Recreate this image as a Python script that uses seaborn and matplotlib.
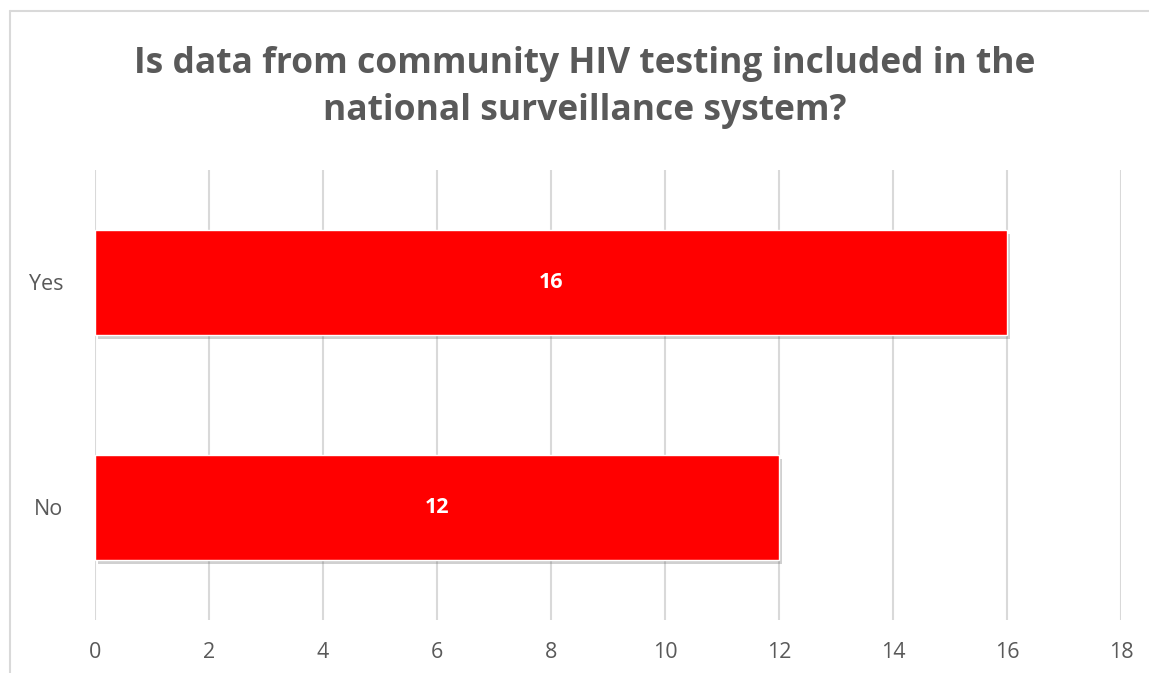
import pandas as pd
import seaborn as sns
import matplotlib.pyplot as plt
import matplotlib.patheffects as pe
from matplotlib.lines import Line2D

categories = ['Yes', 'No']
counts = [16, 12]
x_ticks = [0, 2, 4, 6, 8, 10, 12, 14, 16, 18]
title = 'Is data from community HIV testing included in the\nnational surveillance system?'

df = pd.DataFrame({'answer': categories, 'count': counts})

sns.set_theme(style='white')
plt.rcParams['font.family'] = ['Open Sans', 'DejaVu Sans']

text_grey = '#595959'
grid_grey = '#d9d9d9'

fig = plt.figure(figsize=(11.49, 6.73), dpi=100)
ax = fig.add_axes([0.0827, 0.0788, 0.8929, 0.6686])

sns.barplot(data=df, x='count', y='answer', color='#ff0000', saturation=1,
            width=0.465, orient='h', ax=ax, zorder=3)

# soft drop shadow like the office chart
for bar in ax.patches:
    bar.set_path_effects([pe.SimplePatchShadow(offset=(2, -3), shadow_rgbFace='#666666', alpha=0.3),
                          pe.Normal()])

# value labels inside the bars
for bar, val in zip(ax.patches, counts):
    ax.text(val / 2, bar.get_y() + bar.get_height() / 2, str(val),
            ha='center', va='center', color='white', fontsize=15.5, fontweight='bold', zorder=4)

ax.set_xlim(0, 18)
ax.set_ylim(1.5, -0.5)
ax.set_xticks(x_ticks)
ax.xaxis.grid(True, color=grid_grey, linewidth=1.5, zorder=0)
ax.set_axisbelow(True)
for s in ax.spines.values():
    s.set_visible(False)
ax.tick_params(axis='both', length=0, colors=text_grey, labelsize=15.5)
ax.tick_params(axis='x', pad=16)
ax.tick_params(axis='y', pad=23)
ax.set_xlabel('')
ax.set_ylabel('')

fig.text(0.509, 0.870, title, ha='center', va='center', fontsize=25.5, fontweight='bold',
         color=text_grey, linespacing=1.42)

# chart area border (only left and top visible in the crop)
fig.add_artist(Line2D([10 / 1149, 10 / 1149], [0, 1 - 11 / 673], transform=fig.transFigure,
                      color=grid_grey, linewidth=1.5))
fig.add_artist(Line2D([10 / 1149, 1], [1 - 11 / 673, 1 - 11 / 673], transform=fig.transFigure,
                      color=grid_grey, linewidth=1.5))

fig.savefig('out.png', dpi=100, facecolor='white')
